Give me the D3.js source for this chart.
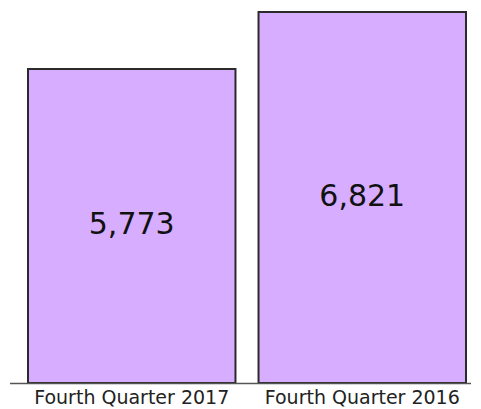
<!DOCTYPE html>
<html>
<head>
<meta charset="utf-8">
<script src="https://cdn.jsdelivr.net/npm/d3@7"></script>
<style>
  body { margin: 0; background: #fff; }
</style>
</head>
<body>
<div id="chart-area"></div>
<script>
var categories = ["Fourth Quarter 2017", "Fourth Quarter 2016"]
var values = [5773, 6821]

var cw = 481
var ch = 409
var baseY = 383

var svg = d3.select("#chart-area").append("svg")
    .attr("width", cw)
    .attr("height", ch)

var x = d3.scaleBand()
    .domain(categories)
    .range([28, 466])
    .paddingInner(0.1)
    .paddingOuter(0)

var y = d3.scaleLinear()
    .domain([0, d3.max(values)])
    .range([baseY, 12])

var data = categories.map((c, i) => ({cat: c, val: values[i]}))

svg.selectAll("rect.bar")
    .data(data)
    .enter()
    .append("rect")
    .attr("class", "bar")
    .attr("x", d => x(d.cat))
    .attr("y", d => y(d.val))
    .attr("width", x.bandwidth())
    .attr("height", d => baseY - y(d.val))
    .attr("fill", "#d7adff")
    .attr("stroke", "#2b2b2b")
    .attr("stroke-width", 2)

// baseline
svg.append("line")
    .attr("x1", 10)
    .attr("x2", 471)
    .attr("y1", baseY + 0.5)
    .attr("y2", baseY + 0.5)
    .attr("stroke", "#555")
    .attr("stroke-width", 1.5)

svg.selectAll("text.val")
    .data(data)
    .enter()
    .append("text")
    .attr("class", "val")
    .attr("x", d => x(d.cat) + x.bandwidth() / 2)
    .attr("y", d => (y(d.val) + baseY) / 2 + 8)
    .attr("text-anchor", "middle")
    .attr("font-family", "DejaVu Sans")
    .attr("font-size", "30px")
    .attr("fill", "#111")
    .text(d => d3.format(",")(d.val))

var bottomAxis = d3.axisBottom(x).tickSize(0).tickPadding(8)

var xAxisGroup = svg.append("g")
    .attr("transform", "translate(0, " + baseY + ")")
    .call(bottomAxis)

xAxisGroup.select(".domain").remove()
xAxisGroup.selectAll("text")
    .attr("font-family", "DejaVu Sans")
    .attr("font-size", "19px")
    .attr("fill", "#222")
</script>
</body>
</html>
